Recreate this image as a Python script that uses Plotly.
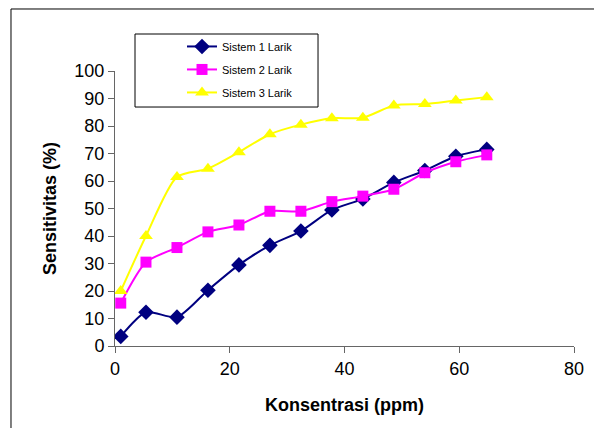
import plotly.graph_objects as go

konsentrasi = [1.0, 5.4, 10.8, 16.2, 21.6, 27.0, 32.4, 37.8, 43.2, 48.6, 54.0, 59.4, 64.8]
sistem1 = [3.5, 12.3, 10.5, 20.3, 29.5, 36.6, 41.8, 49.5, 53.5, 59.5, 63.8, 69.0, 71.5]
sistem2 = [15.6, 30.5, 35.8, 41.5, 44.0, 49.0, 49.0, 52.5, 54.5, 57.0, 63.0, 67.0, 69.5]
sistem3 = [20.0, 40.0, 61.5, 64.5, 70.5, 77.0, 80.5, 82.8, 83.0, 87.5, 88.0, 89.3, 90.5]
names = ["Sistem 1 Larik", "Sistem 2 Larik", "Sistem 3 Larik"]

fig = go.Figure()
fig.add_trace(go.Scatter(x=konsentrasi, y=sistem1, name=names[0], mode="lines+markers", legendgroup="a",
                         line=dict(color="#000080", width=2, shape="spline", smoothing=0.7),
                         marker=dict(symbol="diamond", size=12, color="#000080")))
fig.add_trace(go.Scatter(x=konsentrasi, y=sistem2, name=names[1], mode="lines+markers", legendgroup="b",
                         line=dict(color="#FF00FF", width=2, shape="spline", smoothing=0.7),
                         marker=dict(symbol="square", size=11, color="#FF00FF")))
fig.add_trace(go.Scatter(x=konsentrasi, y=sistem3, name=names[2], mode="lines+markers", legendgroup="c",
                         line=dict(color="#FFFF00", width=2, shape="spline", smoothing=0.7),
                         marker=dict(symbol="triangle-up", size=12, color="#FFFF00")))

ff = "Arial, Liberation Sans, sans-serif"
tick_font = dict(family=ff, size=18, color="black")
title_font = dict(family=ff, size=18, color="black")

# page body has an 8px margin, so figure is drawn offset by 8px
fig.update_layout(
    width=594, height=420,
    margin=dict(l=107, r=28, t=63, b=82, autoexpand=False),
    paper_bgcolor="white", plot_bgcolor="white",
    font=dict(family=ff, color="black"),
    showlegend=True,
    legend=dict(x=0.146, y=1.142, xanchor="left", yanchor="top",
                borderwidth=0, bgcolor="rgba(0,0,0,0)",
                font=dict(size=11, family=ff),
                tracegroupgap=4),
    xaxis=dict(range=[0, 80], dtick=20, showgrid=False, zeroline=False,
               showline=True, linecolor="#666666", linewidth=1,
               ticks="outside", ticklen=6, tickcolor="#666666",
               tickfont=tick_font,
               title=dict(text="<b>Konsentrasi (ppm)</b>", font=title_font, standoff=20)),
    yaxis=dict(range=[0, 100], dtick=10, showgrid=False, zeroline=False,
               showline=True, linecolor="#666666", linewidth=1,
               ticks="outside", ticklen=6, tickcolor="#666666",
               tickfont=tick_font,
               title=dict(text="<b>Sensitivitas (%)</b>", font=title_font, standoff=13)),
)

# legend box
fig.add_shape(type="rect", xref="paper", yref="paper", x0=0.0436, x1=0.4423, y0=0.869, y1=1.1345,
              line=dict(color="black", width=1), fillcolor="white", layer="below")
# outer chart-area border (top and left visible)
fig.add_shape(type="line", xref="paper", yref="paper", x0=-0.2266, x1=1.2, y0=1.2255, y1=1.2255,
              line=dict(color="black", width=1))
fig.add_shape(type="line", xref="paper", yref="paper", x0=-0.2266, x1=-0.2266, y0=-0.4, y1=1.2255,
              line=dict(color="black", width=1))

fig.write_html("out.html")
